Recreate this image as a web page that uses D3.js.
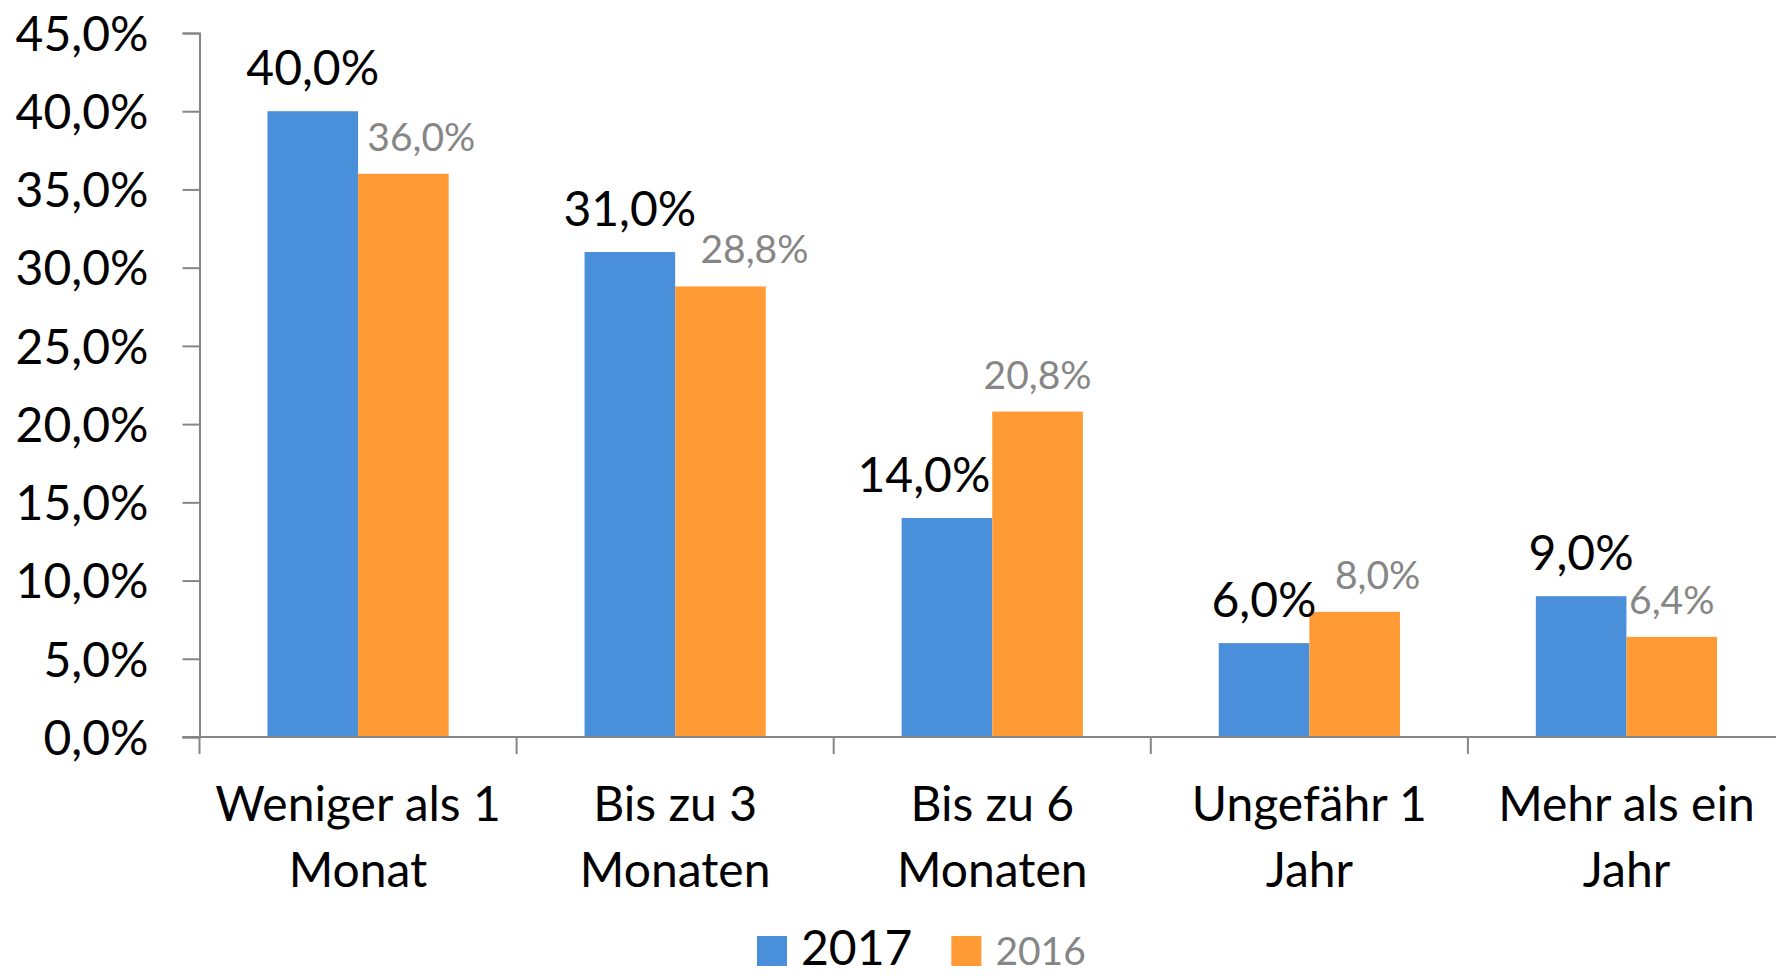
<!DOCTYPE html>
<html>
<head>
<meta charset="utf-8">
<script src="https://cdn.jsdelivr.net/npm/d3@7"></script>
<style>
  body { margin: 0; background: #fff; }
  svg { display: block; }
  text { font-family: Lato, "Open Sans", sans-serif; }
</style>
</head>
<body>
<svg id="chart" width="1776" height="976"></svg>
<script>
// data
const categories = [
  ["Weniger als 1", "Monat"],
  ["Bis zu 3", "Monaten"],
  ["Bis zu 6", "Monaten"],
  ["Ungefähr 1", "Jahr"],
  ["Mehr als ein", "Jahr"]
];
const series = ["2017", "2016"];
const values2017 = [40.0, 31.0, 14.0, 6.0, 9.0];
const values2016 = [36.0, 28.8, 20.8, 8.0, 6.4];
const yTicks = [0, 5, 10, 15, 20, 25, 30, 35, 40, 45];

// labels were dragged by hand in the original, keep the nudges apart
const nudge2017 = [0, 0, -23, 0, 0];
const nudge2016 = [18, 34, 0, 23, 0];

const colors = { "2017": "#4a8fda", "2016": "#ff9a35" };
const gray = "#868686";
const bigFont = 48, smallFont = 39;

const svg = d3.select("#chart");
const plotLeft = 199.5, plotRight = 1785, plotTop = 33, plotBottom = 737;

const x = d3.scaleBand().domain(d3.range(categories.length)).range([plotLeft, plotRight]);
const bw = x.bandwidth() / 3.5; // gap width 150%
const y = d3.scaleLinear().domain([0, 45]).range([plotBottom, plotTop]);

const fmt = v => d3.format(".1f")(v).replace(".", ",") + "%";

// bars
const rows = categories.map((c, i) => ({ i, v17: values2017[i], v16: values2016[i] }));

const g = svg.append("g");
g.selectAll("rect.b17").data(rows).join("rect")
  .attr("class", "b17")
  .attr("x", d => x(d.i) + x.bandwidth() / 2 - bw)
  .attr("y", d => y(d.v17))
  .attr("width", bw)
  .attr("height", d => y(0) - y(d.v17))
  .attr("fill", colors["2017"]);
g.selectAll("rect.b16").data(rows).join("rect")
  .attr("class", "b16")
  .attr("x", d => x(d.i) + x.bandwidth() / 2)
  .attr("y", d => y(d.v16))
  .attr("width", bw)
  .attr("height", d => y(0) - y(d.v16))
  .attr("fill", colors["2016"]);

// y axis
const yAxis = svg.append("g")
  .attr("transform", `translate(${plotLeft},0)`)
  .call(d3.axisLeft(y).tickValues(yTicks).tickFormat(fmt).tickSizeOuter(0).tickSize(17).tickPadding(34));
yAxis.select(".domain").attr("stroke", gray).attr("stroke-width", 2);
yAxis.selectAll(".tick line").attr("stroke", gray).attr("stroke-width", 2);
yAxis.selectAll(".tick text")
  .attr("font-size", bigFont).attr("fill", "#000")
  .attr("font-family", "Lato, 'Open Sans', sans-serif")
  .attr("dy", "0.36em");

// x axis line + boundary ticks
svg.append("line")
  .attr("x1", plotLeft - 17).attr("x2", 1776)
  .attr("y1", y(0)).attr("y2", y(0))
  .attr("stroke", gray).attr("stroke-width", 2);
svg.selectAll("line.xt").data(d3.range(categories.length + 1)).join("line")
  .attr("class", "xt")
  .attr("x1", i => plotLeft + i * x.step()).attr("x2", i => plotLeft + i * x.step())
  .attr("y1", y(0)).attr("y2", y(0) + 17)
  .attr("stroke", gray).attr("stroke-width", 2);

// category labels
const cl = svg.selectAll("text.cat").data(categories).join("text")
  .attr("class", "cat")
  .attr("text-anchor", "middle")
  .attr("font-size", bigFont)
  .attr("fill", "#000");
cl.selectAll("tspan").data((d, i) => d.map(line => ({ line, i }))).join("tspan")
  .attr("x", d => x(d.i) + x.bandwidth() / 2)
  .attr("y", (d, k) => 821 + k * 66)
  .text(d => d.line);

// data labels
svg.selectAll("text.l17").data(rows).join("text")
  .attr("class", "l17")
  .attr("text-anchor", "middle")
  .attr("x", d => x(d.i) + x.bandwidth() / 2 - bw / 2 + nudge2017[d.i])
  .attr("y", d => y(d.v17) - 26)
  .attr("font-size", bigFont).attr("fill", "#000")
  .text(d => fmt(d.v17));
svg.selectAll("text.l16").data(rows).join("text")
  .attr("class", "l16")
  .attr("text-anchor", "middle")
  .attr("x", d => x(d.i) + x.bandwidth() / 2 + bw / 2 + nudge2016[d.i])
  .attr("y", d => y(d.v16) - 23)
  .attr("font-size", smallFont).attr("fill", gray)
  .text(d => fmt(d.v16));

// legend (the original is clipped at the bottom edge; lifted a little so text stays whole)
const leg = svg.append("g");
let lx = 757;
series.forEach((s, k) => {
  leg.append("rect").attr("x", lx).attr("y", 936).attr("width", 30).attr("height", 30)
    .attr("fill", colors[s]);
  const t = leg.append("text").attr("x", lx + 44).attr("y", 965)
    .attr("font-size", k === 0 ? bigFont : smallFont)
    .attr("fill", k === 0 ? "#000" : gray)
    .text(s);
  lx += 44 + t.node().getComputedTextLength() + 39;
});
</script>
</body>
</html>
